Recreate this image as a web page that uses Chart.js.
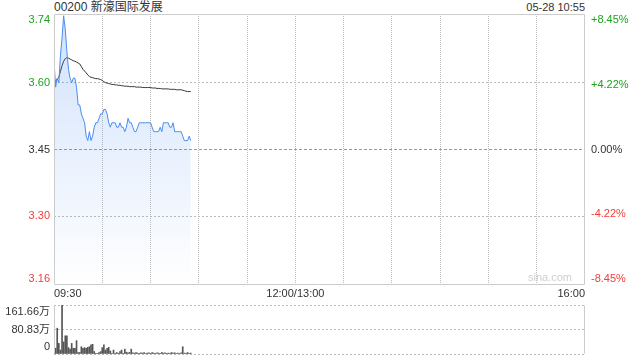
<!DOCTYPE html>
<html>
<head>
<meta charset="utf-8">
<script src="https://cdn.jsdelivr.net/npm/chart.js@4"></script>
<style>
html, body { margin: 0; padding: 0; background: #fff; }
body { width: 640px; height: 360px; position: relative; overflow: hidden;
  font-family: "Liberation Sans", Arial, "Noto Sans CJK SC", sans-serif; }
#title { position: absolute; left: 54px; top: 0; font-size: 12px; color: #333; line-height: 15px; }
#stamp { position: absolute; right: 55px; top: 0; font-size: 11px; color: #333; line-height: 15px; }
#priceBox { position: absolute; left: 0; top: 0; width: 640px; height: 300px; }
#volBox { position: absolute; left: 0; top: 298px; width: 640px; height: 62px; }
</style>
</head>
<body>
<div id="title">00200 新濠国际发展</div>
<div id="stamp">05-28 10:55</div>
<div id="priceBox"><canvas id="priceChart"></canvas></div>
<div id="volBox"><canvas id="volChart"></canvas></div>
<script>
// ── Data (minute index from 09:30, trading day = 330 minutes) ──
const prevClose = 3.45;
const priceMin = 3.146, priceMax = 3.754;
const priceTicks = [3.16, 3.30, 3.45, 3.60, 3.74];
const priceGrid = [3.30, 3.60];
const pctTicks = [8.45, 4.22, 0, -4.22, -8.45];
const pctLabels = ['+8.45%', '+4.22%', '0.00%', '-4.22%', '-8.45%'];
const gridMinutes = [0, 30, 60, 90, 120, 150, 180, 210, 240, 270, 300, 330];
const timeLabels = { 0: '09:30', 150: '12:00/13:00', 330: '16:00' };

const prices = [
  3.65, 3.59, 3.61, 3.60, 3.66, 3.70, 3.75, 3.72, 3.67, 3.63,
  3.61, 3.60, 3.61, 3.61, 3.59, 3.55, 3.55, 3.53, 3.52, 3.51,
  3.48, 3.47, 3.49, 3.47, 3.48, 3.50, 3.51, 3.51, 3.52, 3.53,
  3.53, 3.54, 3.54, 3.53, 3.51, 3.50, 3.51, 3.51, 3.51, 3.50,
  3.50, 3.51, 3.50, 3.50, 3.49, 3.50, 3.52, 3.51, 3.51, 3.50,
  3.49, 3.49, 3.50, 3.51, 3.51, 3.51, 3.51, 3.51, 3.51, 3.51,
  3.51, 3.50, 3.49, 3.49, 3.49, 3.49, 3.50, 3.49, 3.51, 3.51,
  3.51, 3.51, 3.50, 3.50, 3.51, 3.49, 3.49, 3.49, 3.49, 3.49,
  3.48, 3.47, 3.47, 3.47, 3.48, 3.47
];
const avgPrices = [
  3.605, 3.603, 3.608, 3.612, 3.625, 3.638, 3.648, 3.654, 3.656, 3.655,
  3.653, 3.651, 3.649, 3.648, 3.646, 3.644, 3.642, 3.636, 3.630, 3.626,
  3.622, 3.617, 3.614, 3.612, 3.611, 3.610, 3.609, 3.609, 3.608, 3.607,
  3.605, 3.602, 3.600, 3.599, 3.598, 3.597, 3.596, 3.596, 3.595, 3.595,
  3.594, 3.594, 3.593, 3.593, 3.592, 3.592, 3.592, 3.591, 3.591, 3.591,
  3.591, 3.590, 3.590, 3.590, 3.590, 3.589, 3.589, 3.589, 3.589, 3.589,
  3.589, 3.588, 3.588, 3.588, 3.587, 3.587, 3.587, 3.586, 3.586, 3.586,
  3.586, 3.586, 3.585, 3.585, 3.585, 3.585, 3.584, 3.584, 3.584, 3.584,
  3.583, 3.582, 3.581, 3.580, 3.580, 3.580
];
// volume in 万
const volumes = [
  12, 19, 85, 35, 13, 161.66, 40, 60, 60, 21,
  16, 35, 19, 19, 44, 5, 5, 24, 19, 21,
  19, 22, 24, 30, 32, 8, 2, 1, 5, 8,
  21, 30, 13, 19, 22, 10, 2, 13, 2, 5,
  1, 8, 13, 2, 16, 6, 4, 5, 16, 4,
  3, 5, 3, 2, 4, 3, 5, 2, 3, 4,
  2, 5, 3, 2, 4, 3, 2, 5, 3, 4,
  2, 3, 2, 5, 3, 4, 2, 3, 2, 4,
  24, 3, 2, 5, 2, 3
];
const volTicks = [0, 80.83, 161.66];
const volLabels = [['0', ''], '80.83万', ['', '161.66万']];

const GREEN = '#1ca31c', RED = '#f23c3c', GRID = '#bdbdbd', HGRID = '#bababa', NONE = 'rgba(0,0,0,0)';
Chart.defaults.font.family = '"Liberation Sans", Arial, "Noto Sans CJK SC", sans-serif';
Chart.defaults.font.size = 11;

const toXY = arr => arr.map((v, i) => ({ x: i, y: v }));
const levelColor = v => v > prevClose + 1e-6 ? GREEN : v < prevClose - 1e-6 ? RED : '#333';
const fixedWidth = w => s => { s.width = w; s.paddingTop = 0; s.paddingBottom = 0; };

// ── Frame / watermark ──
const framePlugin = {
  id: 'frame',
  afterDraw(chart, args, opts) {
    const { ctx, chartArea: a } = chart;
    const l = Math.round(a.left) + 0.5, r = Math.round(a.right) - 0.5;
    const t = Math.round(a.top) + 0.5, b = Math.round(a.bottom) - 0.5;
    ctx.save();
    ctx.strokeStyle = '#ccc';
    ctx.lineWidth = 1;
    ctx.beginPath();
    if (opts.full) { ctx.rect(l, t, r - l, b - t); }
    else { ctx.moveTo(l, t); ctx.lineTo(l, b); ctx.moveTo(r, t); ctx.lineTo(r, b); }
    ctx.stroke();
    if (opts.mark) {
      ctx.fillStyle = '#cfcfcf';
      ctx.font = '11px "Liberation Sans", Arial, sans-serif';
      ctx.textAlign = 'right';
      ctx.textBaseline = 'middle';
      ctx.fillText(opts.mark, a.right - 13, a.bottom - 7);
    }
    ctx.restore();
  }
};

// ── Price chart ──
const priceChart = new Chart(document.getElementById('priceChart'), {
  type: 'line',
  data: {
    datasets: [
      {
        data: toXY(prices),
        borderColor: '#4a8cf0', borderWidth: 1, pointRadius: 0, tension: 0,
        fill: 'start',
        backgroundColor: ctx => {
          const a = ctx.chart.chartArea;
          if (!a) return 'rgba(74,140,240,0.15)';
          const g = ctx.chart.ctx.createLinearGradient(0, a.top, 0, a.bottom);
          g.addColorStop(0, 'rgba(74,140,240,0.26)');
          g.addColorStop(1, 'rgba(74,140,240,0.0)');
          return g;
        }
      },
      {
        data: toXY(avgPrices),
        borderColor: '#333', borderWidth: 1, pointRadius: 0, tension: 0, fill: false
      },
      {
        // previous close reference line
        data: [{ x: 0, y: prevClose }, { x: 330, y: prevClose }],
        borderColor: '#999', borderWidth: 1, borderDash: [3, 2], pointRadius: 0, fill: false
      }
    ]
  },
  options: {
    responsive: true, maintainAspectRatio: false, animation: false,
    layout: { padding: { top: 14 } },
    plugins: { legend: { display: false }, tooltip: { enabled: false },
      frame: { full: true, mark: 'sina.com' } },
    scales: {
      x: {
        type: 'linear', min: 0, max: 330,
        afterBuildTicks: s => { s.ticks = gridMinutes.map(v => ({ value: v })); },
        afterFit: s => { s.height = 15; },
        grid: { color: gridMinutes.map(v => (v === 0 || v === 330) ? NONE : GRID), drawTicks: false },
        border: { display: false, dash: [1, 1] },
        ticks: { color: '#333', padding: 2, autoSkip: false, maxRotation: 0, align: 'inner',
          callback: v => timeLabels[v] || '' }
      },
      y: {
        position: 'left', min: priceMin, max: priceMax,
        afterBuildTicks: s => { s.ticks = priceTicks.map(v => ({ value: v })); },
        afterFit: fixedWidth(54),
        grid: { color: priceTicks.map(v => priceGrid.includes(v) ? HGRID : NONE), drawTicks: false },
        border: { display: false, dash: [2, 2] },
        ticks: { padding: 4, autoSkip: false, color: c => levelColor(c.tick.value), callback: v => v.toFixed(2) }
      },
      y1: {
        position: 'right', min: priceMin, max: priceMax,
        afterBuildTicks: s => { s.ticks = pctTicks.map(p => ({ value: prevClose * (1 + p / 100) })); },
        afterFit: fixedWidth(55),
        grid: { display: false, drawTicks: false },
        border: { display: false },
        ticks: { padding: 6, autoSkip: false, color: c => levelColor(c.tick.value),
          callback: (v, i) => pctLabels[i] }
      }
    }
  },
  plugins: [framePlugin]
});

// ── Volume chart ──
const volChart = new Chart(document.getElementById('volChart'), {
  type: 'bar',
  data: {
    datasets: [{
      data: toXY(volumes),
      backgroundColor: '#555', barThickness: 1, borderWidth: 0
    }]
  },
  options: {
    responsive: true, maintainAspectRatio: false, animation: false,
    layout: { padding: { top: 7, right: 55, bottom: 6 } },
    plugins: { legend: { display: false }, tooltip: { enabled: false }, frame: { full: false } },
    scales: {
      x: { type: 'linear', min: 0, max: 330, offset: false, display: false },
      y: {
        min: 0, max: 161.66,
        afterBuildTicks: s => { s.ticks = volTicks.map(v => ({ value: v })); },
        afterFit: fixedWidth(54),
        grid: { color: HGRID, drawTicks: false },
        border: { display: false, dash: [2, 2] },
        ticks: { padding: 4, autoSkip: false, color: '#333', callback: (v, i) => volLabels[i] }
      }
    }
  },
  plugins: [framePlugin]
});
</script>
</body>
</html>
